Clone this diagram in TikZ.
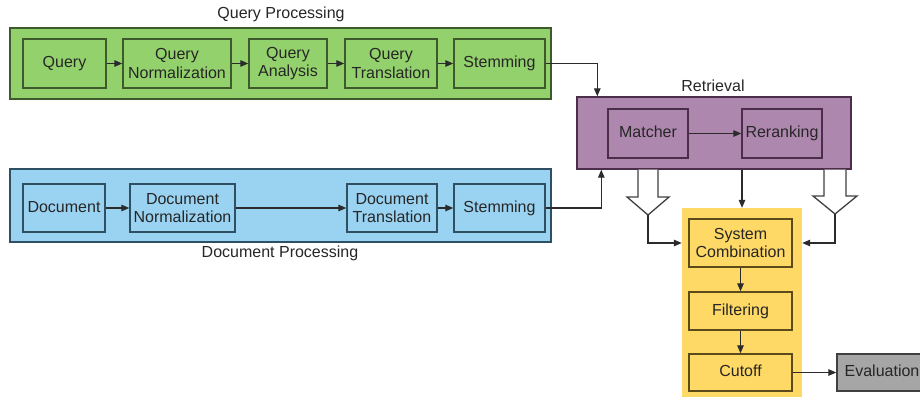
\documentclass[tikz,border=0pt]{standalone}
\usepackage{fontspec}
\setmainfont{Liberation Sans}
\usetikzlibrary{arrows.meta}
\definecolor{gfill}{HTML}{93D16C}
\definecolor{gline}{HTML}{3E5A2C}
\definecolor{bfill}{HTML}{9AD3F1}
\definecolor{bline}{HTML}{2F4F62}
\definecolor{pfill}{HTML}{AE87AE}
\definecolor{pline}{HTML}{4A2E4A}
\definecolor{yfill}{HTML}{FFD966}
\definecolor{yline}{HTML}{5C4A1A}
\definecolor{efill}{HTML}{A6A6A6}
\definecolor{eline}{HTML}{404040}
\definecolor{conn}{HTML}{2B2B2B}
\tikzset{
  box/.style={draw, line width=1.4pt, inner sep=0pt, align=center, text=black!85,
    font=\fontsize{16}{18.5}\selectfont},
  one/.style={text height=11.5pt, text depth=3.5pt},
  outer/.style={draw, line width=1.4pt, inner sep=0pt},
  gbox/.style={box, fill=gfill, draw=gline},
  bbox/.style={box, fill=bfill, draw=bline},
  pbox/.style={box, fill=pfill, draw=pline},
  ybox/.style={box, fill=yfill, draw=yline},
  arr/.style={draw=conn, line width=1.3pt, -{Triangle[length=8pt,width=6.5pt]}},
  blk/.style={draw=conn!90, line width=1.3pt, fill=white, line join=miter},
  ttl/.style={font=\fontsize{16}{18.5}\selectfont, text=black!85},
}
\begin{document}
\begin{tikzpicture}[x=1pt,y=-1pt]
\useasboundingbox (0,0) rectangle (920,396);
\clip (0,0) rectangle (920,396);
% containers
\node[outer, fill=gfill, draw=gline, minimum width=541pt, minimum height=71pt] (qp) at (280.5,63.5) {};
\node[outer, fill=bfill, draw=bline, minimum width=541pt, minimum height=73pt] (dp) at (280.5,205.5) {};
\node[outer, fill=pfill, draw=pline, minimum width=274pt, minimum height=72pt] (ret) at (714,133) {};
\node[fill=yfill, minimum width=120pt, minimum height=190pt, inner sep=0pt] (yel) at (742,303) {};
% titles
\node[ttl] (tq) at (281,14) {Query Processing};
\node[ttl] (tr) at (713,86) {Retrieval};
\node[ttl] (td) at (280,253) {Document Processing};
% query row
\node[gbox, one, minimum width=83pt, minimum height=49pt] (q1) at (64.5,63.5) {Query};
\node[gbox, minimum width=108pt, minimum height=49pt] (q2) at (177,63.5) {Query\\Normalization};
\node[gbox, minimum width=78pt, minimum height=49pt] (q3) at (288,63.5) {Query\\Analysis};
\node[gbox, minimum width=92pt, minimum height=49pt] (q4) at (391,63.5) {Query\\Translation};
\node[gbox, one, minimum width=91pt, minimum height=49pt] (q5) at (499.5,63.5) {Stemming};
% document row
\node[bbox, one, minimum width=82pt, minimum height=48pt] (d1) at (64,208) {Document};
\node[bbox, minimum width=105pt, minimum height=48pt] (d2) at (182.5,208) {Document\\Normalization};
\node[bbox, minimum width=90pt, minimum height=48pt] (d3) at (392,208) {Document\\Translation};
\node[bbox, one, minimum width=91pt, minimum height=48pt] (d4) at (499.5,208) {Stemming};
% retrieval
\node[pbox, one, minimum width=80pt, minimum height=49pt] (m) at (648,133.5) {Matcher};
\node[pbox, one, minimum width=80pt, minimum height=49pt] (rr) at (782,133.5) {Reranking};
% yellow column
\node[ybox, minimum width=103pt, minimum height=48pt] (sc) at (740.5,243) {System\\Combination};
\node[ybox, one, minimum width=103pt, minimum height=38pt] (fi) at (740.5,311) {Filtering};
\node[ybox, one, minimum width=103pt, minimum height=37pt] (co) at (740.5,372.5) {Cutoff};
\node[box, one, fill=efill, draw=eline, minimum width=90pt, minimum height=37pt] (ev) at (882,372.5) {Evaluation};
% arrows
\draw[arr] (q1) -- (q2);
\draw[arr] (q2) -- (q3);
\draw[arr] (q3) -- (q4);
\draw[arr] (q4) -- (q5);
\draw[arr] (d1) -- (d2);
\draw[arr] (d2) -- (d3);
\draw[arr] (d3) -- (d4);
\draw[arr] (m) -- (rr);
\draw[arr] (q5.east) -| ([xshift=21pt]ret.north west);
\draw[arr] (d4.east) -| ([xshift=25pt]ret.south west);
\draw[arr] (yel.north |- ret.south) -- (yel.north);
% block arrows
\coordinate (tl) at (648,215);
\coordinate (tr2) at (835,214);
\draw[blk] (638,169.7) -- (638,197) -- (627,197) -- (tl) -- (669,197) -- (658,197) -- (658,169.7);
\draw[blk] (824,169.7) -- (824,196) -- (813,196) -- (tr2) -- (857,196) -- (846,196) -- (846,169.7);
\draw[arr] (tl) |- (yel.west |- sc);
\draw[arr] (tr2) |- (yel.east |- sc);
\draw[arr] (sc) -- (fi);
\draw[arr] (fi) -- (co);
\draw[arr] (co) -- (ev);
\end{tikzpicture}
\end{document}
